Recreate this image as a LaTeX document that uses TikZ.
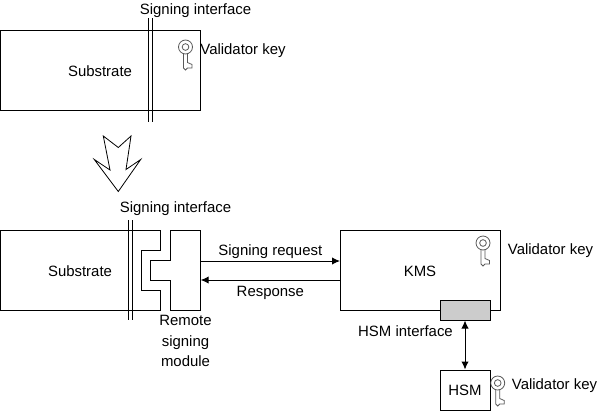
\documentclass[tikz,border=0pt]{standalone}
\usepackage{fontspec}
\setmainfont{Liberation Sans}
\usetikzlibrary{arrows.meta,positioning}
\tikzset{
  box/.style={rectangle,draw,inner sep=0pt},
  lbl/.style={inner sep=0pt,font=\fontsize{11.2}{15.5}\selectfont,align=center},
  link/.style={{Latex[length=6pt,width=5.5pt]}-{Latex[length=6pt,width=5.5pt]}},
  oneway/.style={-{Latex[length=6pt,width=5.5pt]}},
  keyicon/.pic={
    \draw[gray!70!black,line width=0.6pt] (0,0) circle (5.25pt) (0,0) circle (2.5pt);
    \draw[gray!70!black,line width=0.6pt] (-2,7) -- (-2,21) -- (0,23) -- (2,21) -- (6.5,21) -- (6.5,17.5) -- (2,15.5) -- (2,7);
  }
}
\begin{document}
\begin{tikzpicture}[x=0.75pt,y=-0.75pt,line width=0.75pt]
\useasboundingbox (0,0) rectangle (606,411);

% Top part
\node[box,minimum width=150pt,minimum height=60pt] (sub1) at (100,70) {};
\node[lbl] (sub1txt) at (100,71) {Substrate};
\node[lbl] (if1) at (195.5,10.5) {Signing interface};
\coordinate (a1) at (148.5,18);
\coordinate (b1) at (148.5,122);
\coordinate (a2) at (152.5,18);
\coordinate (b2) at (152.5,122);
\draw (a1) -- (b1);
\draw (a2) -- (b2);
\pic at (185.5,47) {keyicon};
\node[lbl] (key1) at (243,51) {Validator key};

% Big arrow
\draw[line width=0.6pt] (103.3,136) -- (118.3,147.5) -- (131,136) -- (126,169.5) -- (140.7,159.5) -- (118.3,191.5) -- (94.3,159.5) -- (110,170) -- cycle;

% Bottom part
\draw (0,230) -- (160.7,230) -- (160.7,250) -- (141,250) -- (141,290) -- (160.7,290) -- (160.7,310) -- (0,310) -- cycle;
\node[lbl] (sub2) at (80,271) {Substrate};
\node[lbl] (if2) at (175.5,209) {Signing interface};
\coordinate (c1) at (128,220);
\coordinate (d1) at (128,320);
\coordinate (c2) at (132,220);
\coordinate (d2) at (132,320);
\draw (c1) -- (d1);
\draw (c2) -- (d2);

% Remote signing module
\draw (170.7,230) -- (200.7,230) -- (200.7,310) -- (170.7,310) -- (170.7,280) -- (150.7,280) -- (150.7,260.5) -- (170.7,260.5) -- cycle;
\node[lbl] (rsm) at (185.5,341) {Remote\\signing\\module};

% KMS and HSM
\node[box,minimum width=120pt,minimum height=60pt] (kms) at (420,270) {};
\node[lbl] (kmstxt) at (420,271) {KMS};
\node[box,fill=gray!40,minimum width=37.5pt,minimum height=15pt] (hsmif) at (465,310) {};
\node[box,minimum width=37.5pt,minimum height=30pt] (hsm) at (465,390) {};
\node[lbl] (hsmtxt) at (465,390) {HSM};
\node[lbl] (hsmiftxt) at (405.5,331) {HSM interface};
\pic at (483,243) {keyicon};
\pic at (497.7,383) {keyicon};
\node[lbl] (key2) at (550.5,251) {Validator key};
\node[lbl] (key3) at (554.5,386) {Validator key};

% Connections
\coordinate (r1) at (200.7,261);
\coordinate (r2) at (340,261);
\coordinate (s1) at (340,280);
\coordinate (s2) at (200.7,280);
\draw[oneway] (r1) -- node[lbl,above=1.5pt] (req) {Signing request} (r2);
\draw[oneway] (s1) -- node[lbl,below=4pt] (resp) {Response} (s2);
\draw[link] (hsmif) -- (hsm);
\end{tikzpicture}
\end{document}
